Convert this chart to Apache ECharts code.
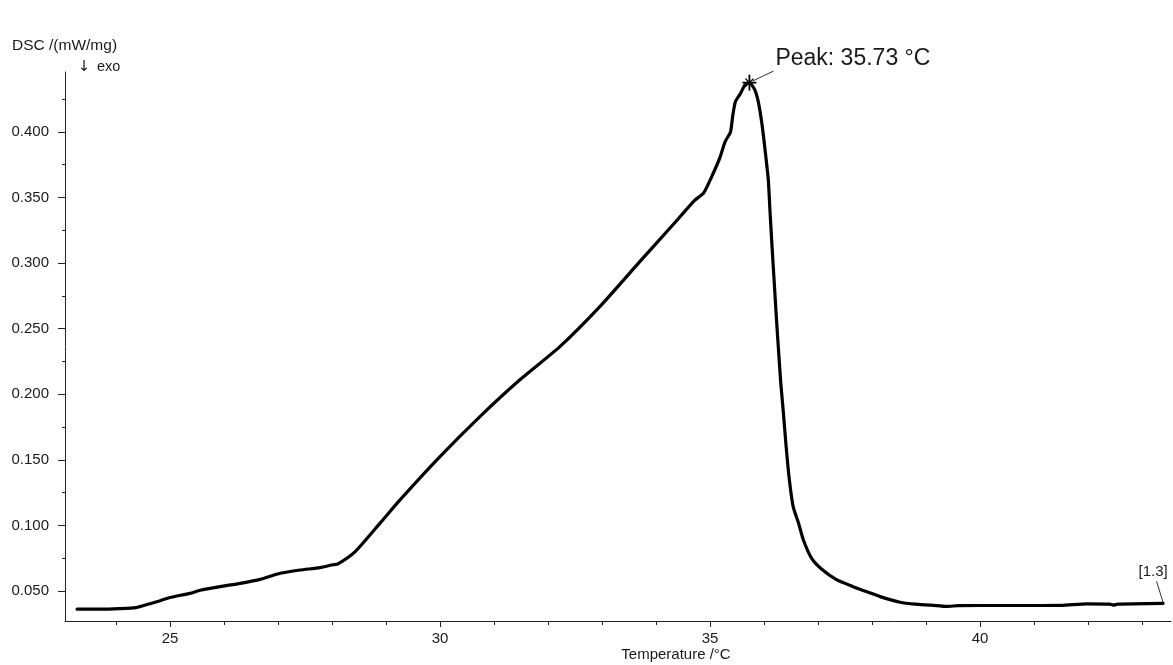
<!DOCTYPE html>
<html>
<head>
<meta charset="utf-8">
<script src="https://cdn.jsdelivr.net/npm/echarts@6/dist/echarts.min.js"></script>
<style>
html,body{margin:0;padding:0;background:#fff;}
#chart{width:1173px;height:665px;}
</style>
</head>
<body>
<div id="chart"></div>
<script>
// Temperature (°C) and DSC signal (mW/mg)
var temperature = [
  23.28, 23.70, 24.07, 24.37, 24.63, 24.82, 25.00, 25.37, 25.56, 25.93,
  26.30, 26.67, 27.04, 27.41, 27.78, 28.02, 28.11, 28.43, 28.89, 29.26,
  30.00, 30.74, 31.48, 32.22, 32.96, 33.70, 34.31, 34.72, 34.88, 35.06,
  35.18, 35.28, 35.38, 35.42, 35.47, 35.56, 35.65, 35.73, 35.83, 35.90,
  35.96, 36.02, 36.08, 36.11, 36.15, 36.19, 36.23, 36.27, 36.31, 36.36,
  36.41, 36.47, 36.54, 36.64, 36.73, 36.88, 37.07, 37.35, 37.65, 37.93,
  38.15, 38.52, 38.80, 39.10, 39.38, 39.60, 40.00, 40.74, 41.50, 41.98,
  42.40, 42.47, 42.55, 43.39
];
var dsc = [
  0.0361, 0.0361, 0.0365, 0.0373, 0.0403, 0.0426, 0.0450, 0.0482, 0.0505, 0.0533,
  0.0558, 0.0588, 0.0635, 0.0660, 0.0678, 0.0700, 0.0706, 0.0800, 0.1017, 0.1195,
  0.1525, 0.1830, 0.2110, 0.2363, 0.2668, 0.3011, 0.3290, 0.3480, 0.3533, 0.3685,
  0.3800, 0.3926, 0.4000, 0.4120, 0.4230, 0.4290, 0.4360, 0.4376, 0.4320, 0.4219,
  0.4066, 0.3863, 0.3634, 0.3405, 0.3120, 0.2850, 0.2580, 0.2330, 0.2090, 0.1855,
  0.1600, 0.1347, 0.1143, 0.1016, 0.0889, 0.0750, 0.0665, 0.0584, 0.0533, 0.0490,
  0.0457, 0.0414, 0.0399, 0.0392, 0.0382, 0.0388, 0.0389, 0.0389, 0.0390, 0.0402,
  0.0400, 0.0392, 0.0400, 0.0406
];
var xMajorTicks = [25, 30, 35, 40];
var xMinorTicks = [24, 26, 27, 28, 29, 31, 32, 33, 34, 36, 37, 38, 39, 41, 42, 43];
var yMajorTicks = [0.050, 0.100, 0.150, 0.200, 0.250, 0.300, 0.350, 0.400];
var yMinorTicks = [0.075, 0.125, 0.175, 0.225, 0.275, 0.325, 0.375, 0.425];
var peak = { t: 35.73, v: 0.4376, label: 'Peak: 35.73 °C' };
var endLabel = '[1.3]';
var yAxisTitle = 'DSC /(mW/mg)';
var exoArrow = '\u2193';
var exoLabel = 'exo';
var xAxisTitle = 'Temperature /°C';

var FONT = '"Liberation Sans", Arial, sans-serif';
var TXT = '#1a1a1a';
var AX = '#222';
var xMin = 23.056, xMax = 43.537, yMin = 0.0271, yMax = 0.4457;

var data = temperature.map(function (t, i) { return [t, dsc[i]]; });

var chart = echarts.init(document.getElementById('chart'), null, { renderer: 'canvas' });

function baseX(show) {
  return {
    type: 'value', min: xMin, max: xMax, position: 'bottom',
    splitLine: { show: false },
    axisLine: { show: show, onZero: false, lineStyle: { color: AX, width: 1 } }
  };
}
function baseY(show) {
  return {
    type: 'value', min: yMin, max: yMax, position: 'left',
    splitLine: { show: false },
    axisLine: { show: show, onZero: false, lineStyle: { color: AX, width: 1 } }
  };
}

var x0 = baseX(true);
x0.axisTick = { show: true, inside: false, length: 6, customValues: xMajorTicks, lineStyle: { color: AX } };
x0.axisLabel = { show: true, customValues: xMajorTicks, margin: 10, fontSize: 15, fontFamily: FONT, color: TXT,
  formatter: function (v) { return String(Math.round(v)); } };
var x1 = baseX(false);
x1.axisTick = { show: true, inside: false, length: 4, customValues: xMinorTicks, lineStyle: { color: AX } };
x1.axisLabel = { show: false };

var y0 = baseY(true);
y0.axisTick = { show: true, inside: false, length: 7, customValues: yMajorTicks, lineStyle: { color: AX } };
y0.axisLabel = { show: true, customValues: yMajorTicks, margin: 16, fontSize: 15, fontFamily: FONT, color: TXT,
  formatter: function (v) { return v.toFixed(3); } };
var y1 = baseY(false);
y1.axisTick = { show: true, inside: false, length: 3, customValues: yMinorTicks, lineStyle: { color: AX } };
y1.axisLabel = { show: false };

chart.setOption({
  animation: false,
  backgroundColor: '#ffffff',
  grid: { left: 65, right: 2, top: 72, bottom: 44, containLabel: false },
  xAxis: [x0, x1],
  yAxis: [y0, y1],
  series: [{
    type: 'line',
    xAxisIndex: 0, yAxisIndex: 0,
    data: data,
    showSymbol: false,
    smooth: 0.2,
    clip: false,
    lineStyle: { color: '#000', width: 3.2, join: 'round', cap: 'round' }
  }]
});

var p = chart.convertToPixel({ xAxisIndex: 0, yAxisIndex: 0 }, [peak.t, peak.v]);
var e = chart.convertToPixel({ xAxisIndex: 0, yAxisIndex: 0 }, [temperature[temperature.length - 1], dsc[dsc.length - 1]]);

function seg(x1, y1, x2, y2, w, c) {
  return { type: 'line', shape: { x1: x1, y1: y1, x2: x2, y2: y2 }, style: { stroke: c || '#000', lineWidth: w || 1 } };
}

chart.setOption({
  graphic: [
    { type: 'text', left: 12, top: 38, style: { text: yAxisTitle, fontSize: 15.5, fontFamily: FONT, fill: TXT } },
    { type: 'text', x: 84, y: 67, style: { text: exoArrow, fontSize: 15, fontFamily: '"DejaVu Sans", sans-serif', fill: TXT, align: 'center', verticalAlign: 'middle' } },
    { type: 'text', x: 97, y: 67, style: { text: exoLabel, fontSize: 14.5, fontFamily: FONT, fill: TXT, align: 'left', verticalAlign: 'middle' } },
    { type: 'text', x: 676, y: 655, style: { text: xAxisTitle, fontSize: 15, fontFamily: FONT, fill: TXT, align: 'center', verticalAlign: 'middle' } },
    seg(p[0], p[1] - 8, p[0], p[1] + 8, 1.8),
    seg(p[0] - 7, p[1], p[0] + 7, p[1], 1.8),
    seg(p[0] - 4, p[1] - 4, p[0] + 4, p[1] + 4, 1.4),
    seg(p[0] - 4, p[1] + 4, p[0] + 4, p[1] - 4, 1.4),
    seg(p[0] + 3, p[1] - 1.5, p[0] + 24, p[1] - 11.5, 1, '#333'),
    { type: 'text', x: p[0] + 26, y: p[1] - 24, style: { text: peak.label, fontSize: 23, fontFamily: FONT, fill: TXT, align: 'left', verticalAlign: 'middle' } },
    seg(e[0], e[1] - 1, e[0] - 6.5, e[1] - 22, 1, '#333'),
    { type: 'text', x: e[0] - 10, y: e[1] - 31, style: { text: endLabel, fontSize: 15, fontFamily: FONT, fill: TXT, align: 'center', verticalAlign: 'middle' } }
  ]
});
</script>
</body>
</html>
